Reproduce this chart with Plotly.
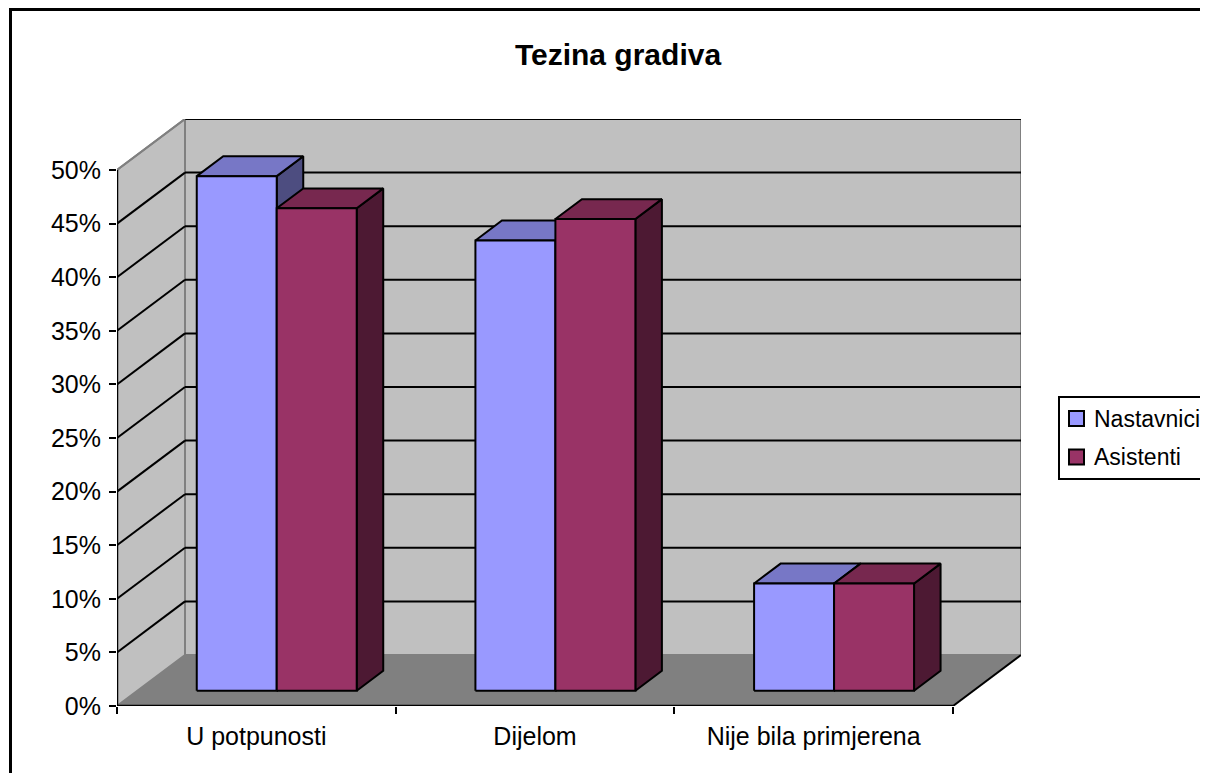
import plotly.graph_objects as go

# data
categories = ["U potpunosti", "Dijelom", "Nije bila primjerena"]
nastavnici = [48, 42, 10]
asistenti = [45, 44, 10]
y_ticks = [0, 5, 10, 15, 20, 25, 30, 35, 40, 45, 50]

FONT = "Liberation Sans, Arial, sans-serif"

# fake 3d: depth offset in axis units
DX = 0.244
DY = 4.76
W = 0.287          # bar width (category units)
D0, D1 = 0.30, 0.69  # bar depth range
YMAX = max(y_ticks)
NCAT = len(categories)

series = [
    ("Nastavnici", nastavnici, "#9999FF", "#7777C6", "#4D4D80"),
    ("Asistenti", asistenti, "#993366", "#77284F", "#4D1933"),
]


def proj(x, y, d):
    return x + d * DX, y + d * DY


def face(pts, color):
    xy = [proj(*p) for p in pts]
    xy.append(xy[0])
    return go.Scatter(x=[p[0] for p in xy], y=[p[1] for p in xy], mode="lines",
                      fill="toself", fillcolor=color,
                      line=dict(color="black", width=2),
                      hoverinfo="skip", showlegend=False)


# plot area pixel -> paper coords (plot area is 904 x 587 px)
def px(x):
    return (x - 117) / 904


def py(y):
    return (706 - y) / 587


fig = go.Figure()

for i, cat in enumerate(categories):
    for s, (name, vals, c_front, c_top, c_side) in enumerate(series):
        v = vals[i]
        xl = i + 0.5 - W + s * W
        xr = xl + W
        fig.add_trace(face([(xr, 0, D0), (xr, 0, D1), (xr, v, D1), (xr, v, D0)], c_side))
        fig.add_trace(face([(xl, v, D0), (xr, v, D0), (xr, v, D1), (xl, v, D1)], c_top))
        fig.add_trace(face([(xl, 0, D0), (xr, 0, D0), (xr, v, D0), (xl, v, D0)], c_front))

shapes = []
# back wall
shapes.append(dict(type="rect", xref="x", yref="y", x0=DX, y0=DY, x1=NCAT + DX, y1=YMAX + DY,
                   fillcolor="#C0C0C0", line=dict(color="#808080", width=2), layer="below"))
# left wall
shapes.append(dict(type="path", xref="x", yref="y",
                   path=f"M0,0 L0,{YMAX} L{DX},{YMAX + DY} L{DX},{DY} Z",
                   fillcolor="#C0C0C0", line=dict(color="#808080", width=2), layer="below"))
# floor
shapes.append(dict(type="path", xref="x", yref="y",
                   path=f"M0,0 L{NCAT},0 L{NCAT + DX},{DY} L{DX},{DY} Z",
                   fillcolor="#808080", line=dict(width=0), layer="below"))
# gridlines
for t in y_ticks[1:]:
    shapes.append(dict(type="line", xref="x", yref="y", x0=DX, y0=t + DY, x1=NCAT + DX, y1=t + DY,
                       line=dict(color="black", width=2), layer="below"))
    shapes.append(dict(type="line", xref="x", yref="y", x0=0, y0=t, x1=DX, y1=t + DY,
                       line=dict(color="black" if t < YMAX else "#808080", width=2), layer="below"))
# floor right edge + axis lines
shapes.append(dict(type="line", xref="x", yref="y", x0=NCAT, y0=0, x1=NCAT + DX, y1=DY,
                   line=dict(color="black", width=2), layer="below"))
shapes.append(dict(type="line", xref="x", yref="y", x0=0, y0=0, x1=0, y1=YMAX,
                   line=dict(color="black", width=2.5), layer="below"))
shapes.append(dict(type="line", xref="x", yref="y", x0=0, y0=0, x1=NCAT, y1=0,
                   line=dict(color="black", width=2.5), layer="below"))
# chart area border
shapes.append(dict(type="rect", xref="paper", yref="paper",
                   x0=px(10.5), y0=py(790), x1=px(1230), y1=py(9.5),
                   line=dict(color="black", width=3), fillcolor="rgba(0,0,0,0)"))

# legend (drawn by hand so it sits like the excel one, running off the right edge)
annotations = []
shapes.append(dict(type="rect", xref="paper", yref="paper",
                   x0=px(1059), y0=py(479), x1=px(1230), y1=py(397),
                   line=dict(color="black", width=2), fillcolor="white"))
for k, (name, vals, c_front, c_top, c_side) in enumerate(series):
    yc = 418.5 + k * 38.5
    shapes.append(dict(type="rect", xref="paper", yref="paper",
                       x0=px(1069), y0=py(yc + 7.5), x1=px(1084), y1=py(yc - 7.5),
                       line=dict(color="black", width=2), fillcolor=c_front))
    annotations.append(dict(text=name, xref="paper", yref="paper", x=px(1092), y=py(yc),
                            xanchor="left", yanchor="middle", showarrow=False,
                            font=dict(family=FONT, size=23, color="black")))

# page has an 8px body margin, so the figure is drawn 8px smaller/shifted
fig.update_layout(
    width=1200, height=765,
    margin=dict(l=109, r=187, t=111, b=67, autoexpand=False),
    paper_bgcolor="white", plot_bgcolor="white",
    font=dict(family=FONT, size=25, color="black"),
    title=dict(text="<b>Tezina gradiva</b>", x=610 / 1200, xanchor="center",
               y=1 - 46 / 765, yanchor="middle", yref="container",
               font=dict(family=FONT, size=30, color="black")),
    shapes=shapes,
    annotations=annotations,
    showlegend=False,
    xaxis=dict(range=[0, NCAT + DX], tickvals=[i + 0.5 for i in range(NCAT)], ticktext=categories,
               ticks="", showgrid=False, zeroline=False, showline=False, fixedrange=True,
               ticklabelstandoff=13,
               minor=dict(tickmode="array", tickvals=list(range(NCAT + 1)), ticks="outside",
                          ticklen=7, tickwidth=2, tickcolor="black", showgrid=False)),
    yaxis=dict(range=[0, YMAX + DY], tickvals=y_ticks, ticktext=[f"{t}%" for t in y_ticks],
               ticks="outside", ticklen=7, tickwidth=2, tickcolor="black", ticklabelstandoff=3,
               showgrid=False, zeroline=False, showline=False, fixedrange=True),
)

fig.write_html("out.html")
